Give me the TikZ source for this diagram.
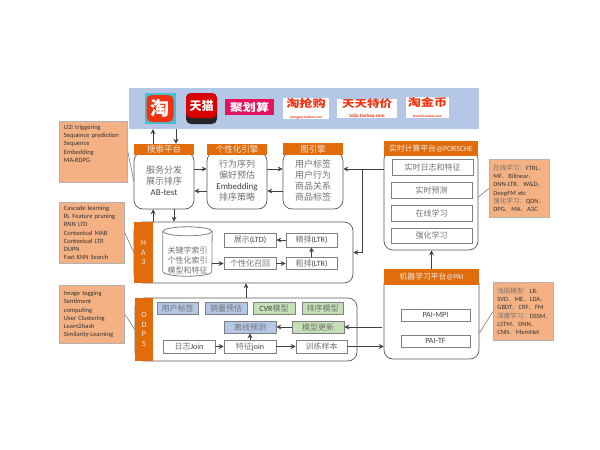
\documentclass[tikz,border=0pt]{standalone}
\usepackage{fontspec}
\setmainfont{Carlito}
\newfontfamily\cjk{Noto Sans CJK SC}
\usepackage{xcolor}
\usetikzlibrary{arrows.meta}

\definecolor{bannerblue}{HTML}{B4C7E7}
\definecolor{headorange}{HTML}{E36C0A}
\definecolor{notefill}{HTML}{F4B183}
\definecolor{modelgreen}{HTML}{C5E0B4}
\definecolor{taored}{HTML}{F0320F}
\definecolor{taoteal}{HTML}{45BFD0}
\definecolor{juhspink}{HTML}{E5145F}
\newcommand{\zh}[1]{{\cjk #1}}
\newcommand{\zg}[1]{{\cjk\color{black!55}#1}}
\newcommand{\wide}[1]{\scalebox{1.25}[1]{#1}}

\begin{document}
\begin{tikzpicture}[
    x=1pt, y=-1pt,
    body/.style={draw=black!65, line width=.7pt, rounded corners=9pt, fill=white, align=center,
                 text=black!75, font=\fontsize{9}{11}\selectfont, inner sep=0pt},
    head/.style={fill=headorange, text=white!92!black, align=center, inner sep=0pt,
                 font=\fontsize{8.5}{10}\selectfont},
    side/.style={head, font=\fontsize{8}{9.5}\selectfont},
    box/.style={draw=black!50, line width=.8pt, fill=white, text=black!75, inner sep=0pt, align=center,
                font=\fontsize{8}{10}\selectfont},
    bluebox/.style={box, fill=bannerblue},
    greenbox/.style={box, fill=modelgreen},
    drum/.style={draw=black!50, line width=.8pt},
    note/.style={draw=black!30, line width=.9pt, fill=notefill, text=black!80, anchor=north west, align=left,
                 inner sep=0pt, font=\fontsize{6.5}{8.2}\selectfont},
    arr/.style={-{Stealth[length=5pt,width=5pt,inset=1.8pt]}, black!75, line width=.6pt},
    lnk/.style={black!60, line width=.5pt},
    logo/.style={inner sep=0pt, align=center, font=\bfseries}
]
\useasboundingbox (0,0) rectangle (600,450);

% Banner
\node[fill=bannerblue, minimum width=350pt, minimum height=41pt, inner sep=0pt] (banner) at (304,108.5) {};
\node[logo, fill=taoteal, minimum size=31pt] (taobg) at (160,108.5) {};
\node[logo, fill=taored, rounded corners=5pt, minimum size=27pt, text=white,
      font=\fontsize{19}{19}\selectfont\bfseries] (tao) at (160,108.5) {\zh{淘}};
\node[logo, fill=black!85, rounded corners=5pt, minimum size=31pt] (tmallbg) at (201.5,108.5) {};
\node[logo, fill=red!85!black, rounded corners=5pt, minimum width=31pt, minimum height=25pt, text=white,
      font=\fontsize{12}{12}\selectfont\bfseries] (tmall) at (201.5,105.5) {\zh{天猫}};
\node[logo, fill=juhspink, minimum width=49pt, minimum height=16pt, text=white,
      font=\fontsize{10.5}{11}\selectfont\bfseries] (juhs) at (249.5,107) {\wide{\zh{聚划算}}};
\node[logo, fill=white, minimum width=46pt, minimum height=17pt, text=taored] (qiang) at (306,108.5)
      {\fontsize{10.5}{10}\selectfont\wide{\zh{淘抢购}}\\[-1.5pt]\fontsize{3.5}{3.5}\selectfont qianggou.taobao.com};
\node[logo, fill=white, minimum width=60pt, minimum height=17pt, text=taored] (tejia) at (367,108.5)
      {\fontsize{10}{10}\selectfont\wide{\zh{天天特价}}\\[-1.5pt]\fontsize{5}{5}\selectfont tejia.taobao.com};
\node[logo, fill=white, minimum width=43pt, minimum height=21pt, text=taored] (jinbi) at (427.5,107.5)
      {\fontsize{10.5}{10}\selectfont\wide{\zh{淘金币}}\\[-1.5pt]\fontsize{3.5}{3.5}\selectfont taojinbi.taobao.com};

% Engines
\node[body, minimum width=60pt, minimum height=57pt] (search) at (164,180.5)
      {\zg{服务分发}\\\zg{展示排序}\\AB-test};
\node[head, minimum width=60pt, minimum height=11pt] (searchhead) at (164,149.5) {\zh{搜索平台}};
\node[body, minimum width=60pt, minimum height=57pt] (person) at (237,180.5)
      {\zg{行为序列}\\\zg{偏好预估}\\Embedding\\\zg{排序策略}};
\node[head, minimum width=60pt, minimum height=11pt] (personhead) at (237,149.5) {\zh{个性化引擎}};
\node[body, minimum width=60pt, minimum height=57pt] (graph) at (313,180.5)
      {\zg{用户标签}\\\zg{用户行为}\\\zg{商品关系}\\\zg{商品标签}};
\node[head, minimum width=60pt, minimum height=12pt] (graphhead) at (313,149) {\zh{图引擎}};

% HA3
\node[body, minimum width=219pt, minimum height=61pt] (ha3) at (243.5,252.5) {};
\node[side, minimum width=19pt, minimum height=61pt] (ha3side) at (143.5,252.5) {H\\A\\3};
\node[minimum width=49pt, minimum height=49pt, inner sep=0pt] (index) at (187.5,251.5) {};
\draw[drum] ([yshift=-4.5pt]index.north west) -- ([yshift=4.5pt]index.south west)
      arc[start angle=180, end angle=360, x radius=24.5pt, y radius=4.5pt]
      -- ([yshift=-4.5pt]index.north east);
\draw[drum] ([yshift=-4.5pt]index.north) ellipse [x radius=24.5pt, y radius=4.5pt];
\node[text=black!75, align=center, inner sep=0pt, font=\fontsize{8}{10}\selectfont] (indextext) at (187.5,260)
      {\zg{关键字索引}\\\zg{个性化索引}\\\zg{模型和特征}};
\node[box, minimum width=52pt, minimum height=14pt] (show) at (250,240) {\zg{展示}(LTD)};
\node[box, minimum width=51pt, minimum height=14pt] (fine) at (311.5,240) {\zg{精排}(LTR)};
\node[box, minimum width=52pt, minimum height=12pt] (recall) at (250,263.5) {\zg{个性化召回}};
\node[box, minimum width=51pt, minimum height=12pt] (rough) at (311.5,263.5) {\zg{粗排}(LTR)};

% ODPS
\node[body, minimum width=222pt, minimum height=63pt] (odps) at (246,329.5) {};
\node[side, minimum width=18pt, minimum height=63pt] (odpsside) at (144,329.5) {O\\D\\P\\S};
\node[bluebox, minimum width=41pt, minimum height=12pt] (tags) at (177.5,308) {\zg{用户标签}};
\node[bluebox, minimum width=42pt, minimum height=12pt] (sales) at (226,308) {\zg{销量预估}};
\node[greenbox, minimum width=42pt, minimum height=12pt] (cvr) at (274,308) {CVR\zg{模型}};
\node[greenbox, minimum width=41pt, minimum height=12pt] (rank) at (322.5,308) {\zg{排序模型}};
\node[bluebox, minimum width=52pt, minimum height=12pt] (offline) at (250,327) {\zg{离线预测}};
\node[greenbox, minimum width=52pt, minimum height=12pt] (update) at (318,327) {\zg{模型更新}};
\node[box, minimum width=52pt, minimum height=13pt] (logjoin) at (189,346.5) {\zg{日志}Join};
\node[box, minimum width=52pt, minimum height=13pt] (featjoin) at (250,346.5) {\zg{特征}join};
\node[box, minimum width=51pt, minimum height=13pt] (train) at (321.5,346.5) {\zg{训练样本}};

% Realtime platform
\node[body, minimum width=94pt, minimum height=100pt] (porsche) at (431,200) {};
\node[head, minimum width=94pt, minimum height=15pt, font=\fontsize{7.8}{10}\selectfont] (porschehead) at (431,148.5) {\zh{实时计算平台}@PORSCHE};
\node[box, minimum width=81pt, minimum height=16pt] (rtlog) at (432.5,167) {\zg{实时日志和特征}};
\node[box, minimum width=81pt, minimum height=16pt] (rtpred) at (431.5,190) {\zg{实时预测}};
\node[box, minimum width=81pt, minimum height=16pt] (online) at (431.5,213) {\zg{在线学习}};
\node[box, minimum width=81pt, minimum height=15pt] (rl) at (431.5,235.5) {\zg{强化学习}};

% PAI platform
\node[body, minimum width=95pt, minimum height=84pt] (pai) at (431.5,317) {};
\node[head, minimum width=95pt, minimum height=16pt, font=\fontsize{7.8}{10}\selectfont] (paihead) at (431.5,277) {\zh{机器学习平台}@PAI};
\node[box, minimum width=69pt, minimum height=12pt] (mpi) at (435.5,315) {PAI-MPI};
\node[box, minimum width=69pt, minimum height=12pt] (tf) at (435.5,341) {PAI-TF};

% Notes
\node[note, text width=59pt, minimum height=61pt, inner xsep=4.5pt] (note1) at (59,121)
      {U2I triggering\\Sequence prediction\\Sequence\\Embedding\\MA-RDPG\\~\\~};
\node[note, text width=56pt, minimum height=61pt, inner xsep=4.5pt] (note2) at (59,202)
      {Cascade learning\\RL Feature pruning\\RNN LTD\\Contextual MAB\\Contextual LTR\\DUPN\\Fast KNN Search};
\node[note, text width=56pt, minimum height=58pt, inner xsep=4.5pt] (note3) at (59,285)
      {Image tagging\\Sentiment\\computing\\User Clustering\\Learn2hash\\Similarity-Learning};
\node[note, text width=52pt, minimum height=58pt, inner xsep=4pt] (note4) at (489,159)
      {\zg{在线学习：}FTRL\zg{、}\\MF\zg{、}Bilinear\zg{、}\\DNN-LTR\zg{、}W\&D\zg{、}\\DeepFM etc\\\zg{强化学习：}QDN\zg{、}\\DPG\zg{、}MA\zg{、}A3C};
\node[note, text width=52pt, minimum height=58pt, inner xsep=4pt] (note5) at (493,282)
      {\zg{浅层模型：}LR\zg{、}\\SVD\zg{、}ME\zg{、}LDA\zg{、}\\GBDT\zg{、}CRF\zg{、}FM\\\zg{深度学习：}DSSM\zg{、}\\LSTM\zg{、}DNN\zg{、}\\CNN\zg{、}MemNet};

% Arrows
\draw[arr] ([xshift=-11pt]searchhead.north) -- ([xshift=-11pt]searchhead.north |- banner.south);
\draw[arr] ([xshift=12pt]searchhead.north |- banner.south) -- ([xshift=12pt]searchhead.north);
\draw[arr] ([yshift=11.5pt]search.east) -- ([yshift=11.5pt]person.west);
\draw[arr] ([yshift=-10.5pt]person.west) -- ([yshift=-10.5pt]search.east);
\draw[arr] ([yshift=11.5pt]person.east) -- ([yshift=11.5pt]graph.west);
\draw[arr] ([yshift=-10.5pt]graph.west) -- ([yshift=-10.5pt]person.east);
\draw[arr] (ha3side.north east) -- (ha3side.north east |- search.south);
\draw[arr] ([xshift=10pt]search.south) -- ([xshift=10pt]search.south |- ha3.north);
\draw[arr] (odps.north) -- (odps.north |- ha3.south);

\draw[arr] (index.east |- recall) -- (recall);
\draw[arr] (recall) -- (rough);
\draw[arr] (rough) -- (fine);
\draw[arr] (fine) -- (show);

\draw[arr] (logjoin) -- (featjoin);
\draw[arr] (featjoin) -- (offline);
\draw[arr] (featjoin) -- (train);
\draw[arr] (update) -- (offline);
\draw[arr] ([xshift=-2pt]pai.west |- update.east) -- (update.east);
\draw[arr] (train.east) -- (train.east -| pai.west);

\coordinate (fork) at (362,169);
\draw[arr] (porsche.west |- fork) -- (graph.east |- fork);
\draw[arr] (fork) |- (ha3.east);
\draw[arr] (paihead) -- (paihead |- porsche.south);

% Note links
\draw[lnk] (note1.east) -- (search.west);
\draw[lnk] (note2.east) -- (ha3side.west);
\draw[lnk] (note3.east) -- (odpsside.west);
\draw[lnk] ([yshift=3pt]porsche.east) -- (note4.west);
\draw[lnk] ([yshift=-16pt]pai.east) -- (note5.west);

\end{tikzpicture}
\end{document}
